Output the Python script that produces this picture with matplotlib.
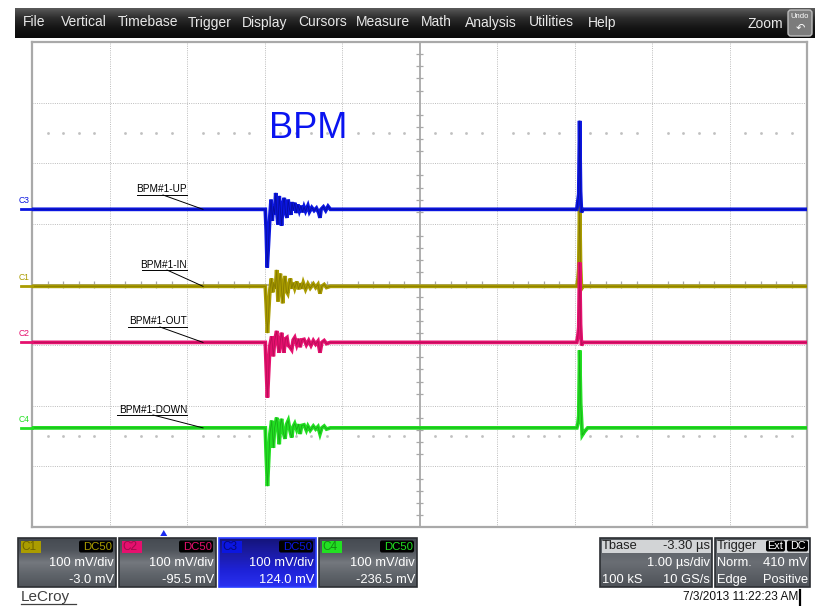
import matplotlib
matplotlib.use('Agg')
import matplotlib.pyplot as plt
from matplotlib.patches import Rectangle, FancyBboxPatch, Polygon
from matplotlib.colors import to_rgb
import numpy as np

# ---------------- data ----------------
menu_items = ["File", "Vertical", "Timebase", "Trigger", "Display", "Cursors",
              "Measure", "Math", "Analysis", "Utilities", "Help"]

t_left, t_right = -1.7, 8.3          # µs shown across the 10 divisions
time_per_div = 1.0                   # µs/div
mv_per_div = 100.0                   # mV/div, all channels

channels = ["C1", "C2", "C3", "C4"]
channel_labels = ["BPM#1-IN", "BPM#1-OUT", "BPM#1-UP", "BPM#1-DOWN"]
offsets_mv = [-3.0, -95.5, 124.0, -236.5]
offset_text = ["-3.0 mV", "-95.5 mV", "124.0 mV", "-236.5 mV"]

# trace key points: time (µs) / signal (mV)
c3_t = [-1.7, 1.31, 1.322, 1.335, 1.35, 1.37, 1.385, 1.40, 1.415, 1.43, 1.445, 1.46,
        1.474, 1.49, 1.505, 1.52, 1.54, 1.555, 1.57, 1.59, 1.605, 1.62, 1.64, 1.655,
        1.67, 1.69, 1.71, 1.73, 1.75, 1.77, 1.79, 1.81, 1.83, 1.86, 1.88, 1.91, 1.94,
        1.97, 2.0, 2.016, 2.03, 2.06, 2.09, 2.12, 2.15,
        5.33, 5.345, 5.355, 5.366, 5.378, 5.39, 5.41, 8.3]
c3_mv = [0, 0, -35, -96, -60, -10, 16, -19, 5, -8, 27, -5,
         -25, 22, 0, -27, 10, 19, -5, -14, 16, 2, -9, 12,
         -2, 11, -6, 8, -2, 6, -5, 4, -3, 6, -4, 3, -2,
         2, -6, -14, 0, 4, -2, 5, 0,
         0, 15, 25, 146, 30, -5, 0, 0]

c1_t = [-1.7, 1.31, 1.322, 1.338, 1.355, 1.37, 1.39, 1.405, 1.42, 1.44, 1.457, 1.474,
        1.49, 1.505, 1.52, 1.535, 1.55, 1.565, 1.582, 1.60, 1.62, 1.635, 1.651, 1.67,
        1.69, 1.716, 1.74, 1.76, 1.78, 1.80, 1.83, 1.86, 1.89, 1.93, 1.96, 1.99,
        2.016, 2.04, 2.07, 2.10, 2.15,
        5.33, 5.345, 5.355, 5.366, 5.378, 5.39, 5.41, 8.3]
c1_mv = [0, 0, -30, -77, -40, -5, 13, -10, 6, -4, 27, -25,
         10, 21, -6, -28, 4, 17, -8, -12, 5, 13, -4, 6,
         -3, 8, -5, 5, -4, 6, -5, 4, -3, 4, -2, 3,
         -12, 0, 3, -2, 0,
         0, 12, 30, 140, 35, -4, 0, 0]

c2_t = [-1.7, 1.31, 1.322, 1.338, 1.355, 1.37, 1.393, 1.414, 1.43, 1.457, 1.475, 1.49,
        1.505, 1.52, 1.535, 1.55, 1.57, 1.59, 1.606, 1.63, 1.651, 1.67, 1.69, 1.716,
        1.74, 1.76, 1.78, 1.81, 1.84, 1.87, 1.90, 1.93, 1.96, 1.99, 2.016, 2.04,
        2.07, 2.10, 2.15,
        5.33, 5.345, 5.355, 5.366, 5.378, 5.39, 5.41, 8.3]
c2_mv = [0, 0, -40, -91, -45, -5, 10, -23, 2, 19, -4, -17,
         3, 16, 2, -17, 6, 8, -5, -8, -12, 4, 8, -4,
         6, -8, 4, 5, -4, 3, -5, 3, -3, 2, -17, 0,
         3, -2, 0,
         0, 12, 25, 132, 30, -5, 0, 0]

c4_t = [-1.7, 1.31, 1.322, 1.338, 1.355, 1.37, 1.393, 1.414, 1.43, 1.457, 1.475, 1.49,
        1.505, 1.52, 1.54, 1.565, 1.585, 1.606, 1.63, 1.651, 1.67, 1.69, 1.716, 1.74,
        1.76, 1.78, 1.81, 1.84, 1.86, 1.89, 1.93, 1.96, 1.99, 2.016, 2.04, 2.07,
        2.10, 2.15,
        5.33, 5.345, 5.355, 5.366, 5.38, 5.40, 5.43, 5.47, 8.3]
c4_mv = [0, 0, -45, -96, -50, -10, 12, -33, 0, 17, -4, -27,
         5, 15, -6, -18, 6, 12, -5, -16, 2, 7, -3, 6,
         -10, 4, 5, -4, 3, -4, 3, -2, 2, -10, 0, 3,
         -2, 0,
         0, 8, 20, 128, 40, -12, -6, 0, 0]

traces_t = {"C1": c1_t, "C2": c2_t, "C3": c3_t, "C4": c4_t}
traces_mv = {"C1": c1_mv, "C2": c2_mv, "C3": c3_mv, "C4": c4_mv}

tbase_rows = [("Tbase", "-3.30 µs"), ("", "1.00 µs/div"), ("100 kS", "10 GS/s")]
trigger_rows = [("Norm.", "410 mV"), ("Edge", "Positive")]
timestamp = "7/3/2013 11:22:23 AM"

# ---------------- style ----------------
colors = {"C1": "#aa9c00", "C2": "#e5106e", "C3": "#0b16e0", "C4": "#22e022"}
dark = {"C1": "#6e6400", "C2": "#9c0c4a", "C3": "#05087a", "C4": "#138a13"}
NARROW = ['Liberation Sans Narrow', 'Liberation Sans', 'DejaVu Sans']
SANS = ['Liberation Sans', 'DejaVu Sans']

W, H = 821, 606
fig = plt.figure(figsize=(W / 100, H / 100), dpi=100)
fig.patch.set_facecolor('white')

# pixel geometry of the graticule
PL, PR, PT, PB = 32, 807, 42, 527
ax = fig.add_axes([PL / W, 1 - PB / H, (PR - PL) / W, (PB - PT) / H])
ax.set_xlim(t_left, t_right)
ax.set_ylim(-4, 4)
ax.set_xticks([]); ax.set_yticks([])
for s in ax.spines.values():
    s.set_color('#a9a9a9'); s.set_linewidth(1.6)
ax.set_zorder(1)

grid_kw = dict(color='#bcbcbc', lw=0.7, ls=(0, (1, 1.3)), zorder=0)
t_center = (t_left + t_right) / 2
for i in range(1, 10):
    t = t_left + i * time_per_div
    if i != 5:
        ax.axvline(t, **grid_kw)
for j in range(-3, 4):
    if j != 0:
        ax.axhline(j, **grid_kw)
ax.axvline(t_center, color='#a8a8a8', lw=1.3, zorder=0)
ax.axhline(0, color='#a8a8a8', lw=1.3, zorder=0)
# minor ticks on centre axes
minor_y = [k / 5 for k in range(-20, 21) if k % 5 != 0]
minor_t = [t_left + k / 5 for k in range(1, 50) if k % 5 != 0]
ax.hlines(minor_y, t_center - 0.045, t_center + 0.045, color='#a8a8a8', lw=0.9, zorder=0)
ax.vlines(minor_t, -0.06, 0.06, color='#a8a8a8', lw=0.9, zorder=0)
# dotted rows at +-2.5 div
for yy in (2.5, -2.5):
    ax.plot(minor_t, [yy] * len(minor_t), ls='none', marker='s', ms=0.9,
            color='#c0c0c0', zorder=0)

# traces
for ch in ["C1", "C2", "C4", "C3"]:
    off = offsets_mv[channels.index(ch)]
    y = [(v + off) / mv_per_div for v in traces_mv[ch]]
    ax.plot(traces_t[ch], y, color=colors[ch], lw=2.7, solid_joinstyle='miter', zorder=3)
    ax.plot(traces_t[ch], y, color=dark[ch], lw=0.6, alpha=0.6, zorder=3)

# ---------------- chrome overlay (pixel coordinates) ----------------
cx = fig.add_axes([0, 0, 1, 1])
cx.set_zorder(5)
cx.patch.set_visible(False)
cx.axis('off')


def grad(x0, y0, x1, y1, cols, z=1):
    n = 64
    rgb = [to_rgb(c) for c in cols]
    pos = np.linspace(0, 1, len(rgb))
    s = np.linspace(0, 1, n)
    arr = np.stack([np.interp(s, pos, [c[k] for c in rgb]) for k in range(3)], axis=-1)
    cx.imshow(arr[:, None, :], extent=(x0, x1, y1, y0), aspect='auto',
              interpolation='bilinear', zorder=z)


def y_of_offset(off):
    return (PT + PB) / 2 - off / mv_per_div * (PB - PT) / 8


# menu bar
grad(15, 8, 815, 38, ['#5a5a5a', '#2c2c2c', '#141414', '#0a0a0a'])
menu_x = [23, 61, 118, 188, 242, 298, 356, 421, 465, 529, 588]
for name, x in zip(menu_items, menu_x):
    cx.text(x, 22.5, name, color='#e8e8e8', fontsize=10, family=NARROW,
            va='center', ha='left', zorder=3)
cx.text(748, 24.5, "Zoom", color='#e8e8e8', fontsize=10, family=NARROW,
        va='center', ha='left', zorder=3)
cx.add_patch(FancyBboxPatch((788, 10), 24, 26, boxstyle='round,pad=0,rounding_size=3',
                            fc='#7c7c7c', ec='#bdbdbd', lw=1, zorder=3))
cx.text(800, 17, "Undo", color='white', fontsize=5.5, family=NARROW,
        ha='center', va='center', zorder=4)
cx.text(800, 28, "↶", color='white', fontsize=8, family=['DejaVu Sans'],
        ha='center', va='center', zorder=4)

# channel markers at left edge
for ch, off in zip(channels, offsets_mv):
    yb = y_of_offset(off)
    cx.plot([21, PL], [yb, yb], color=colors[ch], lw=2, zorder=3)
    cx.text(19, yb - 8.5, ch, color=colors[ch], fontsize=6.2, family=SANS,
            ha='left', va='center', zorder=3)

# trace labels with leader lines
label_pos = {"C3": (189, 195, 137, 163), "C1": (265, 270, 142, 167),
             "C2": (321, 327, 128, 160), "C4": (410, 415, 117, 153)}
for ch, lab in zip(channels, channel_labels):
    ty, uy, ux0, lx = label_pos[ch]
    cx.text(187, ty, lab, color='black', fontsize=7.2, family=SANS,
            ha='right', va='center', zorder=3)
    cx.plot([ux0, 187], [uy, uy], color='black', lw=0.7, zorder=3)
    yb = y_of_offset(offsets_mv[channels.index(ch)])
    cx.plot([lx, 203], [uy, yb], color='black', lw=0.7, zorder=3)

cx.text(308, 129, "BPM", color='#0a14f0', fontsize=26, family=SANS,
        ha='center', va='center', zorder=3)

# trigger position marker
trig_x = PL + (0 - t_left) / (t_right - t_left) * (PR - PL)
cx.add_patch(Polygon([[trig_x - 3.5, 536], [trig_x + 3.5, 536], [trig_x, 530]],
                     closed=True, fc='#1a2af0', ec='none', zorder=3))

# channel descriptor boxes
box_x = [(18, 116), (119, 216), (219, 316), (319, 417)]
for (x0, x1), ch, otxt in zip(box_x, channels, offset_text):
    if ch == "C3":
        grad(x0, 538, x1, 587, ['#14147a', '#1c1ca8', '#1e22d8', '#2a30f0'])
        ec = '#2a3cff'
    else:
        grad(x0, 538, x1, 587, ['#464b52', '#50555c', '#74787e', '#5f646a', '#50545a'])
        ec = '#2c2f33'
    cx.add_patch(Rectangle((x0, 538), x1 - x0, 49, fc='none', ec=ec, lw=1.2, zorder=2))
    cx.add_patch(Rectangle((x0 + 2.5, 540.5), 20, 12, fc=colors[ch], ec='none', zorder=3))
    cx.text(x0 + 3.5, 546.5, ch, color=dark[ch], fontsize=8.5, family=NARROW,
            ha='left', va='center', zorder=4)
    cx.add_patch(FancyBboxPatch((x1 - 37, 540.5), 34, 12,
                                boxstyle='round,pad=0,rounding_size=2',
                                fc='black', ec='none', zorder=3))
    cx.text(x1 - 3.5, 546.5, "DC50", color=colors[ch], fontsize=8.2, family=NARROW,
            ha='right', va='center', zorder=4)
    cx.text(x1 - 2, 563, "100 mV/div", color='white', fontsize=9.3, family=NARROW,
            ha='right', va='center', zorder=4)
    cx.text(x1 - 2, 580, otxt, color='white', fontsize=9.3, family=NARROW,
            ha='right', va='center', zorder=4)

# timebase box
for (x0, x1) in [(600, 712), (715, 810)]:
    grad(x0, 538, x1, 587, ['#555a60', '#6a6e74', '#4e5258'])
    cx.add_patch(Rectangle((x0 + 1.5, 539.5), x1 - x0 - 3, 13, fc='#d2d4d6', ec='none', zorder=2))
    cx.add_patch(Rectangle((x0, 538), x1 - x0, 49, fc='none', ec='#2c2f33', lw=1.2, zorder=2))
cx.text(602, 546, tbase_rows[0][0], color='#202020', fontsize=9.3, family=NARROW,
        ha='left', va='center', zorder=4)
cx.text(710, 546, tbase_rows[0][1], color='#202020', fontsize=9.3, family=NARROW,
        ha='right', va='center', zorder=4)
cx.text(710, 563, tbase_rows[1][1], color='white', fontsize=9.3, family=NARROW,
        ha='right', va='center', zorder=4)
cx.text(602, 580, tbase_rows[2][0], color='white', fontsize=9.3, family=NARROW,
        ha='left', va='center', zorder=4)
cx.text(710, 580, tbase_rows[2][1], color='white', fontsize=9.3, family=NARROW,
        ha='right', va='center', zorder=4)

cx.text(717, 546, "Trigger", color='#202020', fontsize=9.3, family=NARROW,
        ha='left', va='center', zorder=4)
for bx0, bx1, txt in [(766, 785, "Ext"), (787, 808, "DC")]:
    cx.add_patch(FancyBboxPatch((bx0, 540.5), bx1 - bx0, 11,
                                boxstyle='round,pad=0,rounding_size=2',
                                fc='black', ec='none', zorder=3))
    cx.text((bx0 + bx1) / 2, 546, txt, color='white', fontsize=7.8, family=NARROW,
            ha='center', va='center', zorder=4)
for (l, r), yy in zip(trigger_rows, [563, 580]):
    cx.text(717, yy, l, color='white', fontsize=9.3, family=NARROW,
            ha='left', va='center', zorder=4)
    cx.text(808, yy, r, color='white', fontsize=9.3, family=NARROW,
            ha='right', va='center', zorder=4)

cx.text(798, 597.5, timestamp, color='#101010', fontsize=8.6, family=NARROW,
        ha='right', va='center', zorder=4)
cx.plot([800, 800], [590, 605], color='black', lw=1.6, zorder=4)

cx.text(21, 597, "LeCroy", color='#404040', fontsize=11, family=SANS,
        ha='left', va='center', zorder=4)
cx.plot([21, 76], [604, 604], color='#404040', lw=0.9, zorder=4)

cx.set_xlim(0, W)
cx.set_ylim(H, 0)

fig.savefig('out.png', dpi=100, facecolor='white')
